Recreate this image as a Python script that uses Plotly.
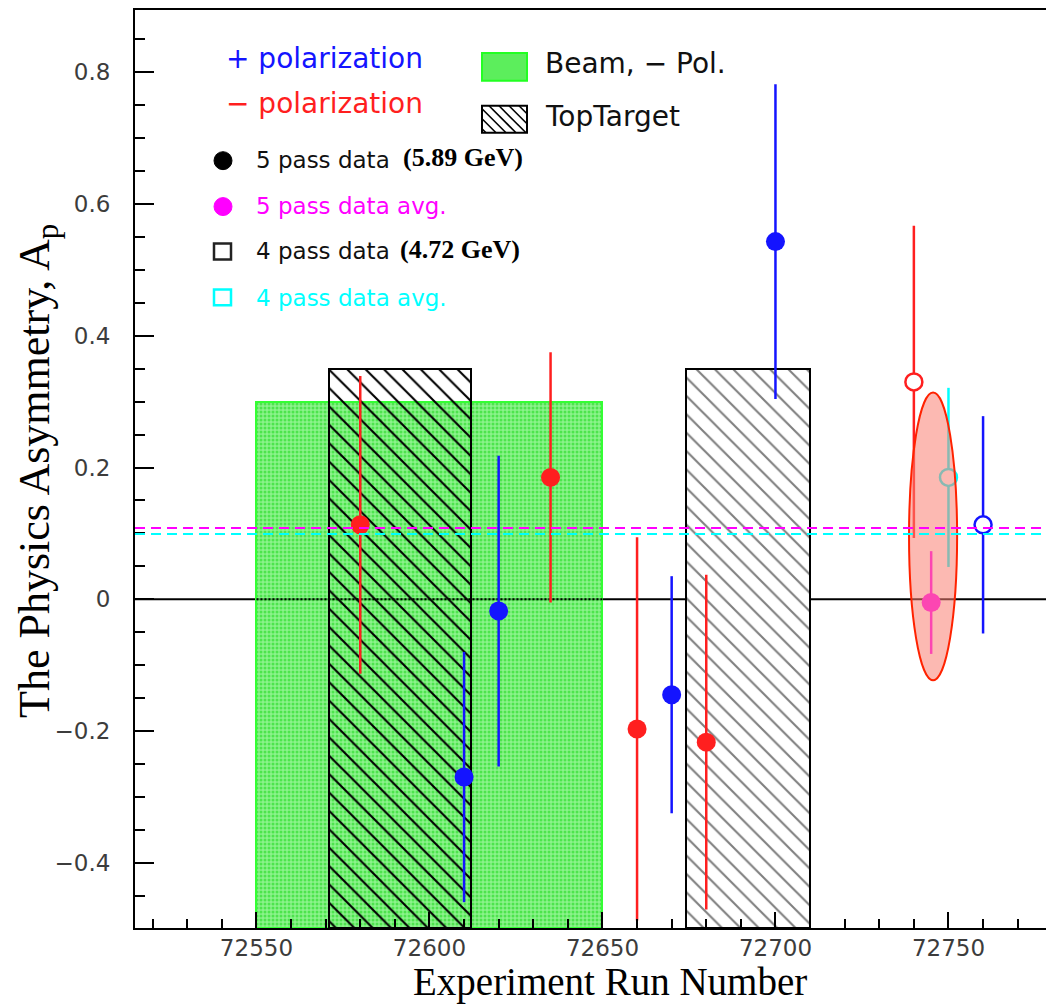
import plotly.graph_objects as go

# ---------------- data ----------------
pos_runs = [72610, 72620, 72670, 72700]          # + polarization, 5 pass
pos_vals = [-0.270, -0.018, -0.145, 0.543]
pos_errs = [0.190, 0.236, 0.180, 0.239]

neg_runs = [72580, 72635, 72660, 72680]          # - polarization, 5 pass
neg_vals = [0.113, 0.185, -0.197, -0.217]
neg_errs = [0.226, 0.190, 0.291, 0.254]

p4_neg_runs = [72740]                            # - polarization, 4 pass
p4_neg_vals = [0.330]
p4_neg_errs = [0.237]

p4_pos_runs = [72760]                            # + polarization, 4 pass
p4_pos_vals = [0.113]
p4_pos_errs = [0.165]

avg5_runs = [72745]                              # 5 pass data avg.
avg5_vals = [-0.005]
avg5_errs = [0.078]

avg4_runs = [72750]                              # 4 pass data avg.
avg4_vals = [0.185]
avg4_errs = [0.136]

avg5_level = 0.108
avg4_level = 0.099

beam_runs = (72550, 72650)
beam_top = 0.30
target_runs = [(72571, 72612), (72674, 72710)]
target_top = 0.35

ellipse_runs = (72738.6, 72752.5)
ellipse_vals = (-0.123, 0.314)

x_range = [72514.9, 72780.5]
y_range = [-0.4992, 0.8947]
x_ticks = [72550, 72600, 72650, 72700, 72750]
x_ticktext = ["72550", "72600", "72650", "72700", "72750"]
y_ticks = [-0.4, -0.2, 0.0, 0.2, 0.4, 0.6, 0.8]
y_ticktext = ["\u22120.4", "\u22120.2", "0", "0.2", "0.4", "0.6", "0.8"]

# ---------------- colours ----------------
BLUE = "#1414ff"
RED = "#ff1f1f"
MAGENTA = "#ff00ff"
CYAN = "#00ffff"
GREEN_FG = "#10d810"
GREEN_BG = "rgba(95,238,95,0.72)"

# ---------------- layout geometry ----------------
OFF = 8                      # page body margin of the html page
W, H = 1054 - OFF, 1004 - OFF
PL, PR, PT, PB = 127, 1046, 0, 920   # plot area in div pixels


def px(x):
    """page x pixel -> paper coordinate"""
    return (x - OFF - PL) / (PR - PL)


def py(y):
    """page y pixel -> paper coordinate"""
    return (PB - (y - OFF)) / (PB - PT)


fig = go.Figure()

# Beam, - Pol. region (green stipple)
fig.add_trace(go.Bar(
    x=[(beam_runs[0] + beam_runs[1]) / 2], width=[beam_runs[1] - beam_runs[0]],
    base=[y_range[0]], y=[beam_top - y_range[0]],
    marker=dict(color=GREEN_BG, line=dict(color="#33ff33", width=2),
                pattern=dict(shape=".", fillmode="overlay", fgcolor=GREEN_FG,
                             size=4, solidity=0.45)),
    showlegend=False, hoverinfo="skip"))

# TopTarget regions (hatched)
for i, (a, b) in enumerate(target_runs):
    fig.add_trace(go.Bar(
        x=[(a + b) / 2], width=[b - a],
        base=[y_range[0]], y=[target_top - y_range[0]],
        marker=dict(color="black" if i == 0 else "white",
                    line=dict(color="black", width=2),
                    pattern=dict(shape="\\",
                                 fillmode="replace" if i == 0 else "overlay",
                                 fgcolor="black", size=13, solidity=0.16)),
        showlegend=False, hoverinfo="skip"))

# zero line seen through the stipple (dotted inside the beam region)
fig.add_trace(go.Scatter(x=list(beam_runs), y=[0, 0], mode="lines",
                         line=dict(color="black", width=2, dash="2px,2px"),
                         showlegend=False, hoverinfo="skip"))


def err(errs, color):
    return dict(type="data", array=errs, visible=True, color=color,
                thickness=2.5, width=0)


# 5 pass data
fig.add_trace(go.Scatter(x=neg_runs, y=neg_vals, mode="markers",
                         marker=dict(symbol="circle", size=19, color=RED),
                         error_y=err(neg_errs, RED), showlegend=False))
fig.add_trace(go.Scatter(x=pos_runs, y=pos_vals, mode="markers",
                         marker=dict(symbol="circle", size=19, color=BLUE),
                         error_y=err(pos_errs, BLUE), showlegend=False))
# 4 pass data
fig.add_trace(go.Scatter(x=p4_neg_runs, y=p4_neg_vals, mode="markers",
                         marker=dict(symbol="circle", size=17, color="white",
                                     line=dict(color=RED, width=2.5)),
                         error_y=err(p4_neg_errs, RED), showlegend=False))
fig.add_trace(go.Scatter(x=p4_pos_runs, y=p4_pos_vals, mode="markers",
                         marker=dict(symbol="circle", size=17, color="white",
                                     line=dict(color=BLUE, width=2.5)),
                         error_y=err(p4_pos_errs, BLUE), showlegend=False))
# averages
fig.add_trace(go.Scatter(x=avg5_runs, y=avg5_vals, mode="markers",
                         marker=dict(symbol="circle", size=19, color=MAGENTA),
                         error_y=err(avg5_errs, MAGENTA), showlegend=False))
fig.add_trace(go.Scatter(x=avg4_runs, y=avg4_vals, mode="markers",
                         marker=dict(symbol="circle", size=17, color="white",
                                     line=dict(color=CYAN, width=2.5)),
                         error_y=err(avg4_errs, CYAN), showlegend=False))

shapes = []
# zero line
shapes.append(dict(type="line", xref="paper", x0=0, x1=1, yref="y", y0=0, y1=0,
                   line=dict(color="black", width=2), layer="below"))
# highlight ellipse
shapes.append(dict(type="circle", xref="x", yref="y",
                   x0=ellipse_runs[0], x1=ellipse_runs[1],
                   y0=ellipse_vals[0], y1=ellipse_vals[1],
                   fillcolor="rgba(250,128,114,0.55)",
                   line=dict(color="#ff2200", width=2), layer="above"))
# average levels
shapes.append(dict(type="line", xref="paper", x0=0, x1=1, yref="y",
                   y0=avg5_level, y1=avg5_level,
                   line=dict(color=MAGENTA, width=2, dash="10px,6px"), layer="above"))
shapes.append(dict(type="line", xref="paper", x0=0, x1=1, yref="y",
                   y0=avg4_level, y1=avg4_level,
                   line=dict(color=CYAN, width=2, dash="10px,6px"), layer="above"))


# ---- legend swatches (pixel positioned, page coordinates) ----
def rect(x0, y0, x1, y1, **kw):
    return dict(type="rect", xref="paper", yref="paper",
                x0=px(x0), x1=px(x1), y0=py(y1), y1=py(y0), **kw)


shapes.append(rect(482, 51, 527, 79, fillcolor="#5cee5c",
                   line=dict(color="#22ff22", width=2), layer="above"))
shapes.append(rect(482, 104, 527, 131, fillcolor="white",
                   line=dict(color="black", width=2), layer="above"))
hx0, hy0, hx1, hy1 = 482, 104, 527, 131
hw, hh = hx1 - hx0, hy1 - hy0
for c in range(-hh + 4, hw, 10):
    t0, t1 = max(0, -c), min(hh, hw - c)
    if t1 <= t0:
        continue
    shapes.append(dict(type="line", xref="paper", yref="paper",
                       x0=px(hx0 + c + t0), y0=py(hy0 + t0),
                       x1=px(hx0 + c + t1), y1=py(hy0 + t1),
                       line=dict(color="black", width=1.6), layer="above"))


def marker_circle(cx, cy, r, color):
    return dict(type="circle", xref="paper", yref="paper",
                x0=px(cx - r), x1=px(cx + r), y0=py(cy + r), y1=py(cy - r),
                fillcolor=color, line=dict(color=color, width=1), layer="above")


shapes.append(marker_circle(223, 159, 9, "black"))
shapes.append(marker_circle(223, 205, 9, MAGENTA))
shapes.append(rect(214, 242, 231, 258, fillcolor="white",
                   line=dict(color="#222222", width=2.5), layer="above"))
shapes.append(rect(214, 288, 231, 304, fillcolor="white",
                   line=dict(color=CYAN, width=2.5), layer="above"))

ann = []
SANS = "DejaVu Sans"


def txt(x, y, text, color, size, family=SANS, anchor="left"):
    ann.append(dict(xref="paper", yref="paper", x=px(x), y=py(y), text=text,
                    showarrow=False, xanchor=anchor, yanchor="middle",
                    font=dict(family=family, size=size, color=color)))


txt(224, 57, "+ polarization", BLUE, 28)
txt(224, 102, "\u2212 polarization", RED, 28)
txt(543, 62, "Beam, \u2212 Pol.", "#111111", 28)
txt(543, 115, "TopTarget", "#111111", 28)
txt(254, 158, "5 pass data", "#111111", 23)
txt(401, 156, "<b>(5.89 GeV)</b>", "black", 26, family="Liberation Serif")
txt(254, 204, "5 pass data avg.", MAGENTA, 23)
txt(254, 250, "4 pass data", "#111111", 23)
txt(398, 248, "<b>(4.72 GeV)</b>", "black", 26, family="Liberation Serif")
txt(254, 297, "4 pass data avg.", CYAN, 23)

# axis titles
ann.append(dict(xref="paper", yref="paper", x=px(610), y=py(982),
                text="Experiment Run Number", showarrow=False,
                xanchor="center", yanchor="middle",
                font=dict(family="Liberation Serif", size=39, color="black")))
ann.append(dict(xref="paper", yref="paper", x=px(38), y=py(470),
                text="The Physics Asymmetry, A<sub>p</sub>", showarrow=False,
                textangle=-90, xanchor="center", yanchor="middle",
                font=dict(family="Liberation Serif", size=44, color="black")))

tickfont = dict(family=SANS, size=23, color="#3c3c3c")

fig.update_layout(
    width=W, height=H,
    margin=dict(l=PL, r=W - PR, t=PT, b=H - PB, pad=0),
    paper_bgcolor="white", plot_bgcolor="white",
    barmode="overlay", bargap=0,
    showlegend=False,
    shapes=shapes, annotations=ann,
    xaxis=dict(range=x_range, tickvals=x_ticks, ticktext=x_ticktext,
               ticks="inside", ticklen=16,
               tickwidth=2, tickcolor="black", showgrid=False, zeroline=False,
               showline=True, linecolor="black", linewidth=2, mirror=True,
               tickfont=tickfont, ticklabelstandoff=-2,
               minor=dict(dtick=10, tick0=72550, ticks="inside", ticklen=9,
                          tickwidth=1.5, tickcolor="black", showgrid=False)),
    yaxis=dict(range=y_range, tickvals=y_ticks, ticktext=y_ticktext,
               ticks="inside", ticklen=19, tickwidth=2, tickcolor="black",
               showgrid=False, zeroline=False, showline=True,
               linecolor="black", linewidth=2, mirror=False,
               tickfont=tickfont, ticklabelstandoff=18,
               minor=dict(dtick=0.05, tick0=0, ticks="inside", ticklen=10,
                          tickwidth=1.5, tickcolor="black", showgrid=False)),
)

fig.write_html("out.html")
